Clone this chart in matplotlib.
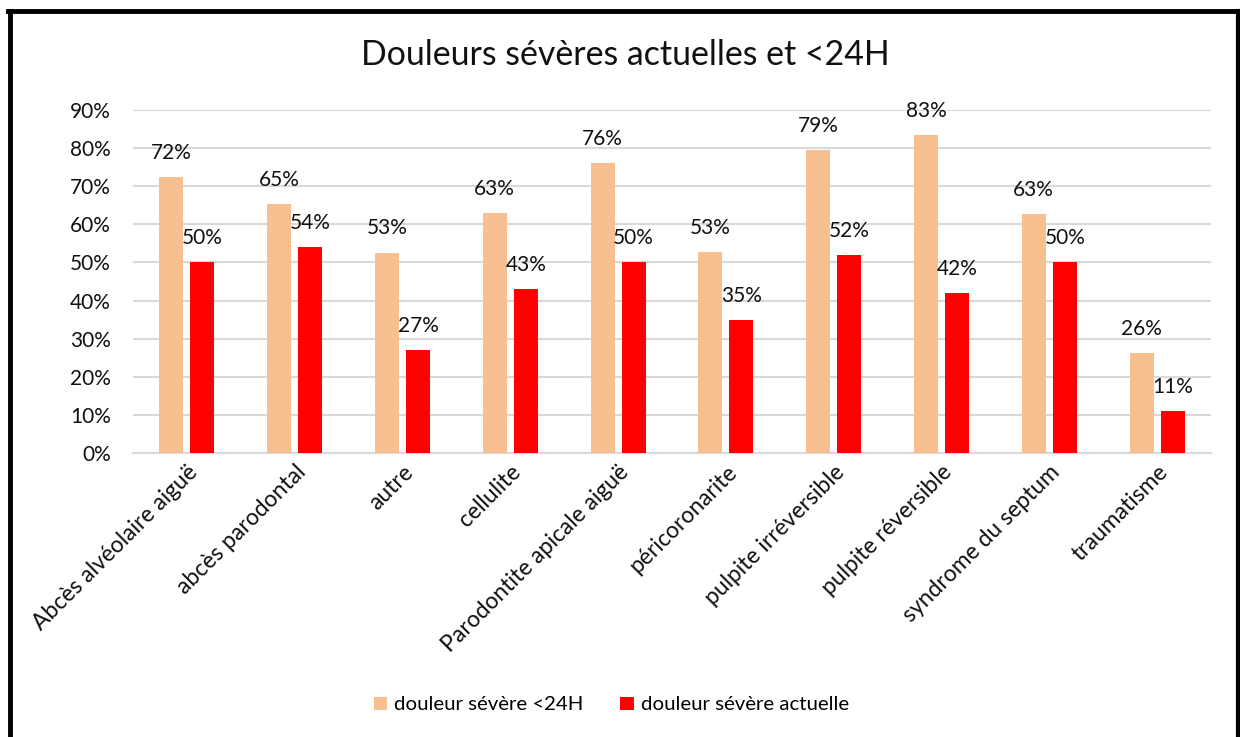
import matplotlib
matplotlib.use("Agg")
import matplotlib.pyplot as plt
import numpy as np
from matplotlib.lines import Line2D
from matplotlib.ticker import FuncFormatter

categories = ["Abcès alvéolaire aiguë", "abcès parodontal", "autre", "cellulite",
              "Parodontite apicale aiguë", "péricoronarite", "pulpite irréversible",
              "pulpite réversible", "syndrome du septum", "traumatisme"]
douleur_24h = [72.4, 65.3, 52.6, 62.9, 76.1, 52.8, 79.4, 83.4, 62.6, 26.3]
douleur_actuelle = [50.0, 54.1, 27.0, 43.0, 50.0, 35.0, 52.0, 42.0, 50.0, 11.0]
series_names = ["douleur sévère <24H", "douleur sévère actuelle"]
colors = ["#F8C091", "#FF0000"]
yticks = [0, 10, 20, 30, 40, 50, 60, 70, 80, 90]

plt.rcParams['font.family'] = ['Lato', 'DejaVu Sans']

fig = plt.figure(figsize=(12.4, 7.37), dpi=100)
W, H = 1240, 737
ax = fig.add_axes([133 / W, 1 - 453 / H, (1211 - 133) / W, (453 - 110) / H])

x = np.arange(len(categories))
bw = 0.223
off = 0.144
b1 = ax.bar(x - off, douleur_24h, bw, color=colors[0], label=series_names[0], zorder=3)
b2 = ax.bar(x + off, douleur_actuelle, bw, color=colors[1], label=series_names[1], zorder=3)

for bars, vals in ((b1, douleur_24h), (b2, douleur_actuelle)):
    for rect, v in zip(bars, vals):
        ax.annotate(f"{int(round(v))}%", (rect.get_x() + rect.get_width() / 2, v),
                    xytext=(0, 13), textcoords="offset points", ha="center", va="baseline",
                    fontsize=15, color="#111111")

ax.set_xlim(-0.5, len(categories) - 0.5)
ax.set_ylim(0, 90)
ax.set_yticks(yticks)
ax.yaxis.set_major_formatter(FuncFormatter(lambda v, p: f"{int(v)}%"))
ax.grid(axis="y", color="#D9D9D9", linewidth=1.5, zorder=0)
ax.set_axisbelow(True)
for s in ["top", "right", "left"]:
    ax.spines[s].set_visible(False)
ax.spines["bottom"].set_color("#D9D9D9")
ax.spines["bottom"].set_linewidth(1.5)
ax.tick_params(axis="y", length=0, labelsize=15, pad=16, labelcolor="#111111")
ax.tick_params(axis="x", length=0, labelsize=16.5, pad=6, labelcolor="#111111")
ax.set_xticks(x)
ax.set_xticklabels(categories, rotation=45, ha="right", va="top", rotation_mode="anchor")

fig.text(0.504, 1 - 55 / H, "Douleurs sévères actuelles et <24H", ha="center", va="center",
         fontsize=24.4, color="#111111")

fig.legend(handles=[b1, b2], labels=series_names, loc="center", bbox_to_anchor=(0.493, 1 - 705 / H),
           ncol=2, frameon=False, fontsize=14.7, handlelength=0.65, handleheight=0.65,
           handletextpad=0.35, columnspacing=1.8)

# border
lw = 3.5
fig.add_artist(Line2D([10 / W, 10 / W], [0, 1 - 11 / H], color="black", lw=lw, transform=fig.transFigure))
fig.add_artist(Line2D([8 / W, 1238.5 / W], [1 - 11 / H, 1 - 11 / H], color="black", lw=lw, transform=fig.transFigure))
fig.add_artist(Line2D([1238 / W, 1238 / W], [0, 1 - 11 / H], color="black", lw=3, transform=fig.transFigure))

fig.savefig("out.png", dpi=100)
